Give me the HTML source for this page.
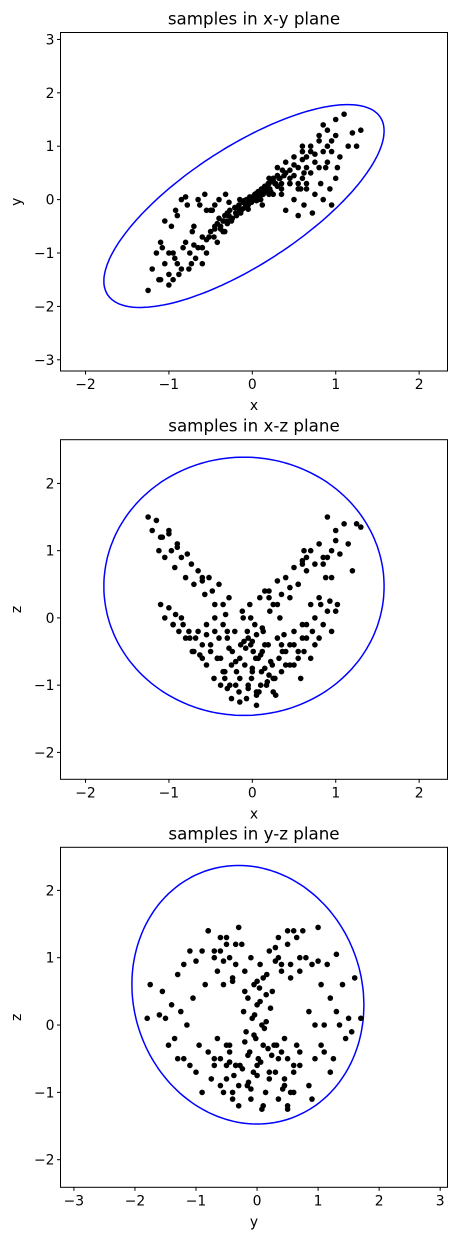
<!DOCTYPE html>
<html><head><meta charset="utf-8"><style>
html,body{margin:0;padding:0;background:#fff}
svg{display:block;font-family:"DejaVu Sans","Liberation Sans",sans-serif}
</style></head><body>
<svg id="fig" width="457" height="1240" viewBox="0 0 457 1240" xmlns="http://www.w3.org/2000/svg"></svg>
<script>
// Samples for x-y and x-z panels (x, y, z)
const xs = [-0.38,-0.33,-0.3,-0.27,-0.24,-0.21,-0.19,-0.16,-0.14,-0.11,-0.09,-0.07,-0.05,-0.03,-0.01,0.01,0.03,0.05,0.07,0.09,0.11,0.13,0.15,0.17,0.19,0.21,0.24,0.27,0.3,0.33,0.36,0.4,-0.02,0.04,-0.06,0.08,0.0,0.12,-0.12,0.2,
-1.25,-1.2,-1.15,-1.12,-1.08,-1.05,-1.0,-0.97,-0.93,-0.9,-0.85,-0.8,-0.78,-0.73,-0.7,-0.65,-0.6,-0.57,-0.52,-0.48,-0.45,-0.4,-0.35,-0.32,-0.28,
-1.1,-1.05,-1.0,-0.95,-0.92,-0.88,-0.83,-0.8,-0.76,-0.72,-0.68,-0.63,-0.6,-0.55,-0.5,-0.46,-0.42,-0.38,-0.33,-0.3,
0.2,0.25,0.3,0.35,0.4,0.45,0.5,0.55,0.6,0.65,0.7,0.75,0.8,0.85,0.9,0.95,1.0,1.05,1.1,1.15,1.2,1.25,1.3,0.62,0.88,
0.35,0.4,0.45,0.5,0.55,0.6,0.62,0.65,0.7,0.72,0.75,0.8,0.82,0.85,0.9,0.93,0.95,1.0,1.02,0.58,
-0.75,-0.7,-0.65,-0.6,-0.55,-0.5,-0.45,-0.42,0.45,0.5,0.55,0.6,0.65,0.7,0.75,-0.25,-0.15,-0.05,0.05,0.15,0.25,0.32,-0.35,0.0,0.1,-0.2,0.18,-0.08,0.28,0.38,
-0.3,-0.25,-0.2,-0.15,-0.1,-0.05,0,0.05,0.1,0.15,0.2,0.25,0.3,0.35,-0.35,-0.4,0.45,0.5,-0.45,0.55,-0.9,-0.85,-1.0,-1.1,-0.95,0.9,0.95,1.0,0.85,0.8,-0.6,-0.55,0.6,0.65,-0.15,0.05,0.22,-0.28,0.12,-0.02];
const ys = [-0.55,-0.3,-0.45,-0.2,-0.35,-0.15,-0.3,-0.1,-0.25,-0.05,-0.15,0.0,-0.1,0.05,-0.05,0.0,0.1,0.0,0.15,0.05,0.2,0.1,0.25,0.15,0.3,0.2,0.35,0.3,0.45,0.4,0.55,0.5,-0.05,0.05,-0.12,0.08,0.02,0.18,-0.18,0.3,
-1.7,-1.3,-1.0,-1.5,-0.9,-1.2,-1.4,-0.5,-1.1,-0.3,-1.3,-0.8,-0.1,-1.2,-0.5,0.0,-0.9,0.1,-0.7,-0.2,-0.5,0.0,-0.4,0.1,-0.3,
-1.5,-0.4,-1.6,-1.0,-0.2,-1.4,-0.9,0.05,-1.3,-0.6,-1.1,-0.1,-0.9,-1.0,-0.2,-0.7,-0.8,-0.5,-0.6,-0.4,
0.4,0.1,0.6,0.2,0.7,0.4,0.8,0.3,0.9,0.6,1.0,0.7,1.2,0.9,1.3,1.1,1.5,0.8,1.6,1.0,1.25,1.0,1.3,0.5,0.6,
0.1,-0.2,0.3,0.0,-0.3,0.4,-0.1,0.2,0.5,-0.25,0.1,0.6,0.3,0.0,0.7,0.2,-0.1,0.4,0.6,0.2,
-1.0,-0.85,-0.9,-0.7,-0.75,-0.6,-0.55,-0.45,0.55,0.65,0.6,0.75,0.8,0.9,0.85,-0.35,-0.2,-0.08,0.1,0.2,0.35,0.4,-0.4,-0.02,0.12,-0.25,0.22,-0.1,0.3,0.45,
-0.25,-0.4,-0.15,-0.2,-0.02,-0.18,0.05,-0.02,0.0,0.25,0.1,0.4,0.25,0.3,-0.6,-0.35,0.3,0.45,-0.1,0.2,-1.2,0.0,-1.0,-0.8,-1.5,1.0,0.9,1.2,1.4,1.1,-1.2,-0.2,1.0,0.3,0.0,0.12,0.15,-0.05,-0.1,0.0];
const zs = [-0.6,-0.9,-0.3,-1.0,-0.5,-0.2,-0.8,-1.1,-0.4,0.0,-0.7,-1.2,-0.3,0.2,-0.9,-0.5,-0.1,-1.3,-0.6,0.3,-0.8,-0.2,0.4,-1.0,-0.4,0.1,-0.7,-0.9,-0.3,0.0,-0.5,-0.7,-0.4,-0.6,-0.2,-1.1,-0.8,-0.5,0.1,0.3,
1.5,1.3,1.45,1.0,1.2,0.9,1.25,1.0,0.75,1.05,0.9,0.6,0.95,0.8,0.5,0.7,0.55,0.35,0.6,0.4,0.2,0.5,0.2,0.05,0.3,
0.2,0.0,0.15,-0.1,0.05,-0.2,-0.1,-0.3,-0.2,-0.5,-0.3,-0.55,-0.4,-0.7,-0.5,-0.9,-0.6,-1.0,-0.8,-1.05,
0.4,0.2,0.55,0.35,0.6,0.45,0.75,0.5,0.85,0.7,1.0,0.8,1.1,0.9,1.5,1.0,1.3,0.95,1.4,1.1,0.7,1.4,1.35,1.0,0.6,
-0.8,-0.5,-0.7,-0.4,-0.6,-0.3,-0.5,-0.1,-0.6,-0.2,0.0,-0.3,0.2,-0.1,0.1,0.25,-0.2,0.1,0.2,-0.9,
-0.3,-0.5,-0.2,-0.6,-0.1,-0.4,-0.2,-0.6,-0.4,-0.2,-0.5,-0.1,-0.3,0.2,-0.4,-1.2,-0.9,-1.0,-1.1,-0.75,-0.9,-0.6,-0.8,-0.35,-0.55,-0.65,-0.95,-0.45,-1.15,-0.25,
-0.2,-0.7,-1.0,-0.6,-0.35,-1.05,-0.75,-0.25,-1.0,-0.4,-0.85,-1.1,0.2,-0.4,-0.1,-0.3,0.3,-0.7,0.0,0.5,1.1,0.0,1.3,1.2,-0.1,0.9,0.6,1.15,0.8,0.3,0.6,-0.25,0.8,0.9,-1.25,-1.15,-0.65,-0.45,-0.15,0.0];
// Samples for y-z panel, read approximately from that plot
const ysYZ = [-0.25,-0.1,0.05,0.2,-0.2,-0.05,0.1,0.25,-0.15,0.0,0.15,-0.22,-0.08,0.08,0.22,-0.18,-0.02,0.12,0.28,-0.12,0.02,0.18,-0.28,-0.06,0.06,0.2,-0.16,0.0,0.14,-0.1,0.1,-0.24,0.04,0.24,-0.04,-0.2,0.16,-0.14,0.08,0.3,
-1.8,-1.75,-1.6,-1.55,-1.5,-1.45,-1.4,-1.35,-1.3,-1.3,-1.25,-1.2,-1.2,-1.15,-1.1,-1.1,-1.05,-1.0,-1.0,-0.95,-0.9,-0.9,-0.85,-0.8,-0.8,-0.75,-0.7,-0.7,-0.65,-0.6,-0.6,-0.55,-0.5,-0.5,-0.45,-0.45,-0.4,-0.4,-0.35,-0.35,
0.35,0.35,0.4,0.45,0.45,0.5,0.55,0.6,0.6,0.65,0.7,0.7,0.75,0.8,0.85,0.85,0.9,0.95,0.95,1.0,1.05,1.05,1.1,1.15,1.2,1.2,1.25,1.3,1.3,1.35,1.4,1.45,1.5,1.55,1.6,1.7,0.9,1.1,0.5,1.0,
-0.6,-0.5,-0.45,-0.4,-0.35,-0.3,-0.55,-0.45,0.3,0.35,0.4,0.45,0.5,0.55,0.6,-0.65,0.65,-0.3,0.32,-0.5,0.5,-0.38,0.42,-0.7,0.7,
-0.8,-0.6,-0.5,-0.35,-0.4,0.35,0.4,0.5,0.6,0.7,-0.7,-0.3,0.3,-0.55,0.55,
-0.05,0.05,-0.15,0.15,0.0,-0.1,0.1,-0.2,0.2,0.0];
const zsYZ = [1.2,1.0,0.9,1.1,0.8,0.6,0.7,0.5,0.4,0.3,0.45,0.2,0.1,0.0,0.25,-0.1,-0.2,-0.05,-0.3,-0.4,-0.5,-0.35,-0.6,-0.7,-0.55,-0.8,-0.9,-0.75,-1.0,-1.1,-1.2,-0.65,0.55,-0.45,0.15,-0.25,0.75,-0.85,-1.25,0.95,
0.1,0.6,0.15,0.5,0.1,-0.3,0.3,-0.2,0.75,-0.5,0.2,0.9,-0.5,0.0,1.1,-0.6,0.4,0.95,-0.7,-0.3,1.1,-1.0,0.6,1.4,-0.4,-0.8,1.0,-0.6,0.8,1.3,-0.9,0.6,1.2,-0.3,1.0,-0.55,0.65,-1.0,0.9,-0.6,
1.0,-0.5,0.8,-0.9,-0.2,1.4,0.9,-0.6,-1.0,1.3,0.8,-0.4,1.4,1.0,-0.9,0.2,0.9,-0.5,0.0,1.45,0.6,-0.3,0.0,0.9,0.4,-0.7,-0.5,1.05,0.2,0.0,0.6,-0.2,0.1,-0.1,0.7,0.1,-1.1,-0.4,-1.2,0.95,
-0.5,-0.8,-0.4,-1.1,-0.6,-0.9,-1.0,-0.3,-0.7,-1.1,-0.4,-0.8,-0.5,-1.0,-0.7,-0.2,-0.3,-1.2,-0.3,-0.6,-1.25,-0.75,-0.95,-0.5,-0.6,
1.4,1.1,1.3,1.2,0.7,1.3,0.9,1.2,1.4,1.0,1.1,1.45,1.15,0.95,0.7,
-0.15,0.35,-0.45,0.05,-0.6,-0.95,-0.3,0.5,-0.7,0.65];
// Ellipse contours: [centerA, centerB, halfA, halfB, correlation]
const ellipseXY = [-0.1, -0.12, 1.68, 1.9, 0.74];
const ellipseXZ = [-0.1, 0.47, 1.68, 1.92, 0.0];
const ellipseYZ = [-0.15, 0.45, 1.9, 1.92, -0.08];
const ticksX = [-2,-1,0,1,2];
const ticksY3 = [-3,-2,-1,0,1,2,3];
const ticksZ = [-2,-1,0,1,2];

const NS = "http://www.w3.org/2000/svg";
const svg = document.getElementById('fig');
function mk(tag, attrs, parent){const e=document.createElementNS(NS,tag);for(const k in attrs)e.setAttribute(k,attrs[k]);(parent||svg).appendChild(e);return e;}
function fmt(v){return v<0?'\u2212'+Math.abs(v):String(v);}

function panel(cfg){
  const g = mk('g',{});
  
  
  const L=60.5,R=447.5,T=cfg.top,B=cfg.bottom;
  const sx=v=>L+(v-cfg.xlim[0])/(cfg.xlim[1]-cfg.xlim[0])*(R-L);
  const sy=v=>B-(v-cfg.ylim[0])/(cfg.ylim[1]-cfg.ylim[0])*(B-T);
  const t = mk('text',{x:254,y:T-8,'text-anchor':'middle','font-size':16.7,fill:'#000'},g);
  t.textContent = cfg.title;
  
  
  const e = cfg.ell; let pts=[];
  const s=Math.sqrt(1-e[4]*e[4]);
  for(let i=0;i<=200;i++){const a=i/200*2*Math.PI;const u=e[0]+e[2]*Math.cos(a);const v=e[1]+e[3]*(e[4]*Math.cos(a)+s*Math.sin(a));pts.push(sx(u).toFixed(1)+','+sy(v).toFixed(1));}
  const pl = mk('polyline',{points:pts.join(' '),fill:'none',stroke:'#0000ff','stroke-width':1.5},g);
  
  
  const dg = mk('g',{fill:'#000'},g);
  
  
  for(let i=0;i<cfg.a.length;i++){
    const c = mk('circle',{cx:sx(cfg.a[i]).toFixed(1),cy:sy(cfg.b[i]).toFixed(1),r:2.8},dg);
    
    
  }
  const fr = mk('rect',{x:L,y:T,width:R-L,height:B-T,fill:'none',stroke:'#000','stroke-width':1},g);
  
  
  cfg.xt.forEach(v=>{const x=sx(v);mk('line',{x1:x,x2:x,y1:B,y2:B+3.5,stroke:'#000'},g);
    const tx=mk('text',{x:x,y:B+18,'text-anchor':'middle','font-size':13.9,fill:'#000'},g);tx.textContent=fmt(v);
    
    });
  cfg.yt.forEach(v=>{const y=sy(v);mk('line',{x1:L,x2:L-3.5,y1:y,y2:y,stroke:'#000'},g);
    const tx=mk('text',{x:L-6,y:y+5,'text-anchor':'end','font-size':13.9,fill:'#000'},g);tx.textContent=fmt(v);
    
    });
  const xl=mk('text',{x:254,y:B+39,'text-anchor':'middle','font-size':13.9,fill:'#000'},g);xl.textContent=cfg.xlab;
  
  
  const yc=(T+B)/2;
  const yl=mk('text',{x:21,y:yc,'text-anchor':'middle','font-size':13.9,fill:'#000',transform:'rotate(-90 21 '+yc+')'},g);yl.textContent=cfg.ylab;
  
  
}
panel({name:'xy-panel',title:'samples in x-y plane',top:32.5,bottom:371,xlim:[-2.30,2.34],ylim:[-3.21,3.13],a:xs,b:ys,ell:ellipseXY,xt:ticksX,yt:ticksY3,xlab:'x',ylab:'y'});
panel({name:'xz-panel',title:'samples in x-z plane',top:439.7,bottom:779.3,xlim:[-2.30,2.34],ylim:[-2.40,2.65],a:xs,b:zs,ell:ellipseXZ,xt:ticksX,yt:ticksZ,xlab:'x',ylab:'z'});
panel({name:'yz-panel',title:'samples in y-z plane',top:847.3,bottom:1187.3,xlim:[-3.22,3.12],ylim:[-2.41,2.64],a:ysYZ,b:zsYZ,ell:ellipseYZ,xt:ticksY3,yt:ticksZ,xlab:'y',ylab:'z'});
</script>
</body></html>
